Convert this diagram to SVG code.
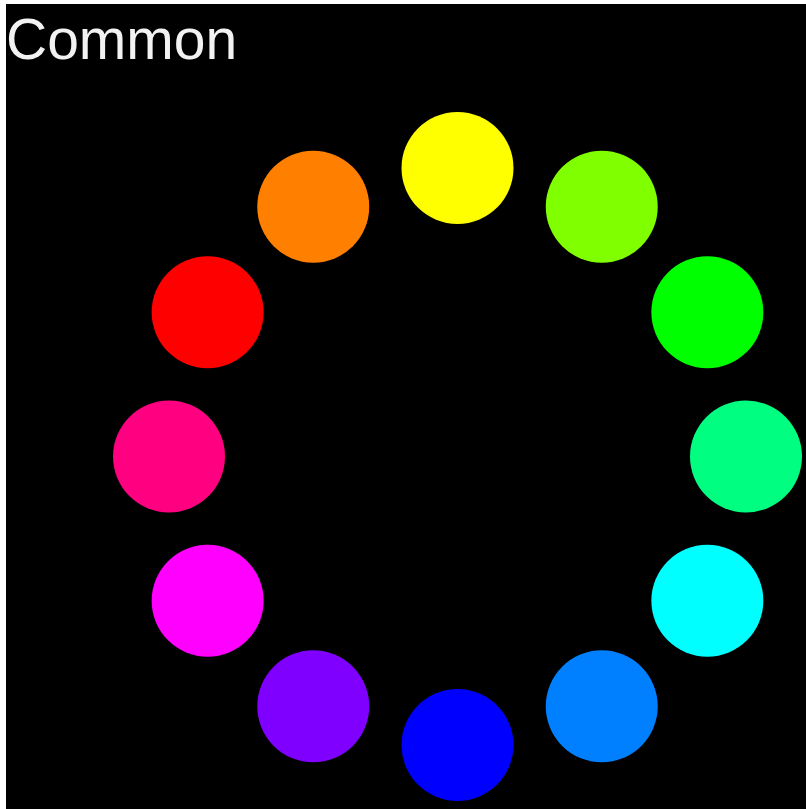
<svg xmlns="http://www.w3.org/2000/svg" width="806" height="809" viewBox="0 0 806 809">
<style>
.title{font-family:"Liberation Sans",Arial,sans-serif;font-size:57px;fill:#f2f2f2}
.dot{stroke:none}
</style>
<rect x="0" y="0" width="806" height="809" fill="#ffffff"/>
<rect x="6" y="4" width="800" height="805" fill="#000000"/>
<text class="title" x="6" y="59">Common</text>
<g id="nodes">
<g id="n0"><circle class="dot" cx="457.5" cy="168" r="56" fill="#ffff00"/></g>
<g id="n1"><circle class="dot" cx="601.75" cy="206.65" r="56" fill="#80ff00"/></g>
<g id="n2"><circle class="dot" cx="707.35" cy="312.25" r="56" fill="#00ff00"/></g>
<g id="n3"><circle class="dot" cx="746" cy="456.5" r="56" fill="#00ff80"/></g>
<g id="n4"><circle class="dot" cx="707.35" cy="600.75" r="56" fill="#00ffff"/></g>
<g id="n5"><circle class="dot" cx="601.75" cy="706.35" r="56" fill="#0080ff"/></g>
<g id="n6"><circle class="dot" cx="457.5" cy="745" r="56" fill="#0000ff"/></g>
<g id="n7"><circle class="dot" cx="313.25" cy="706.35" r="56" fill="#8000ff"/></g>
<g id="n8"><circle class="dot" cx="207.65" cy="600.75" r="56" fill="#ff00ff"/></g>
<g id="n9"><circle class="dot" cx="169" cy="456.5" r="56" fill="#ff0080"/></g>
<g id="n10"><circle class="dot" cx="207.65" cy="312.25" r="56" fill="#ff0000"/></g>
<g id="n11"><circle class="dot" cx="313.25" cy="206.65" r="56" fill="#ff8000"/></g>
</g>
<g id="connectors"></g>
</svg>
